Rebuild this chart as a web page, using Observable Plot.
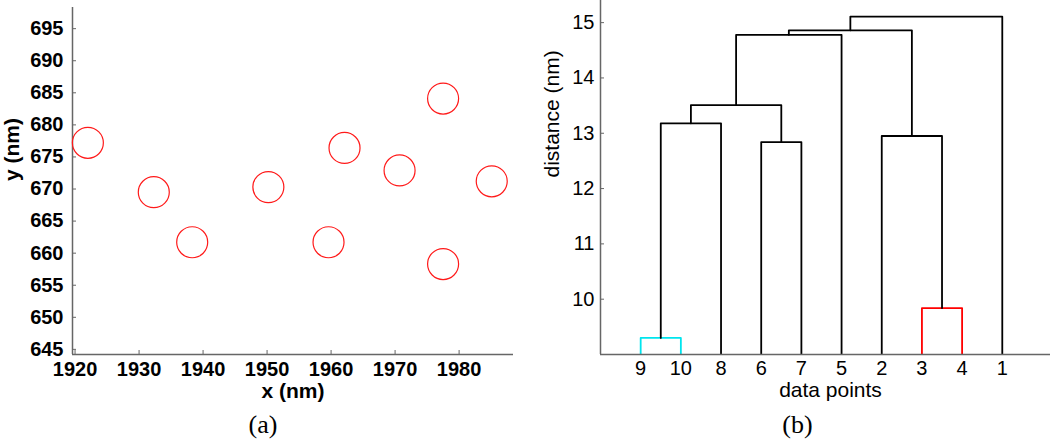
<!DOCTYPE html>
<html><head><meta charset="utf-8">
<script src="https://cdn.jsdelivr.net/npm/d3@7"></script>
<script src="https://cdn.jsdelivr.net/npm/@observablehq/plot@0.6"></script>
<style>
html,body{margin:0;padding:0;background:#fff;}
#wrap{position:relative;width:1050px;height:440px;overflow:hidden;}
#a{position:absolute;left:0;top:0;}
#b{position:absolute;left:525px;top:0;}
</style></head><body><div id="wrap"><div id="a"></div><div id="b"></div></div>
<script>
// ---- panel (a) data ----
const pointX = [1922.0, 1932.3, 1938.3, 1950.2, 1959.6, 1962.1, 1970.7, 1977.5, 1977.5, 1985.1];
const pointY = [677.2, 669.5, 661.7, 670.3, 661.7, 676.4, 672.9, 684.1, 658.3, 671.2];
const xTicksA = [1920, 1930, 1940, 1950, 1960, 1970, 1980];
const yTicksA = [645, 650, 655, 660, 665, 670, 675, 680, 685, 690, 695];

// ---- panel (b) data (linkage: leaves 1..10, new clusters 11..19) ----
const leafOrder = [9, 10, 8, 6, 7, 5, 2, 3, 4, 1];
const linkLeft = [9, 3, 6, 2, 11, 15, 16, 17, 18];
const linkRight = [10, 4, 7, 12, 8, 13, 5, 14, 1];
const linkHeight = [9.30, 9.84, 12.84, 12.95, 13.18, 13.51, 14.78, 14.86, 15.11];
const linkColor = ["#00e5ee", "#ff0000", "#000", "#000", "#000", "#000", "#000", "#000", "#000"];
const yTicksB = [10, 11, 12, 13, 14, 15];

const axisGray = "#666";

// ---- panel (a) ----
const pts = pointX.map((x, i) => ({x, y: pointY[i]}));
const WA = 525, HA = 440, mlA = 72, mrA = 12, mtA = 7, mbA = 86;
const xDomA = [1919.6, 1988.5], yDomA = [644.2, 698.3];
const sansFont = "Liberation Sans, Arial, Helvetica, sans-serif";
const serifFont = "Liberation Serif, Times New Roman, serif";
const plotA = Plot.plot({
  width: WA, height: HA,
  marginLeft: mlA, marginRight: mrA, marginTop: mtA, marginBottom: mbA,
  style: {fontFamily: sansFont, fontWeight: "bold", fontSize: "20px", color: "#000", background: "#fff", overflow: "visible"},
  x: {domain: xDomA, ticks: xTicksA, tickSize: 0, tickPadding: 7, tickFormat: d => String(d), label: null},
  y: {domain: yDomA, ticks: yTicksA, tickSize: 0, tickPadding: 9, tickFormat: d => String(d), label: null},
  marks: [
    Plot.tickY(yTicksA, {y: d => d, insetRight: WA - mlA - mrA - 4, stroke: axisGray, strokeWidth: 1}),
    Plot.tickX(xTicksA, {x: d => d, insetTop: HA - mtA - mbA - 4, stroke: axisGray, strokeWidth: 1}),
    Plot.ruleX([xDomA[0]], {stroke: axisGray, strokeWidth: 1.5}),
    Plot.ruleY([yDomA[0]], {stroke: axisGray, strokeWidth: 1.5}),
    Plot.dot(pts, {x: "x", y: "y", r: 15.5, stroke: "#ff1a1a", strokeWidth: 1.2, fill: "none"}),
    Plot.text(["x (nm)"], {frameAnchor: "bottom", lineAnchor: "middle", dy: 37, fontSize: 21, fontWeight: "bold"}),
    Plot.text(["y (nm)"], {frameAnchor: "left", lineAnchor: "middle", dx: -60, rotate: -90, fontSize: 21, fontWeight: "bold"}),
    Plot.text(["(a)"], {frameAnchor: "bottom", lineAnchor: "middle", dy: 70, dx: -30, fontSize: 26, fontWeight: "normal", fontFamily: serifFont})
  ]
});
document.getElementById("a").appendChild(plotA);

// ---- panel (b) ----
const pos = {}, hgt = {};
leafOrder.forEach((leaf, i) => { pos[leaf] = i + 1; hgt[leaf] = 0; });
const segs = [];
linkLeft.forEach((L, k) => {
  const R = linkRight[k], h = linkHeight[k], id = 11 + k;
  segs.push({x: pos[L], y: hgt[L], k, c: linkColor[k]});
  segs.push({x: pos[L], y: h, k, c: linkColor[k]});
  segs.push({x: pos[R], y: h, k, c: linkColor[k]});
  segs.push({x: pos[R], y: hgt[R], k, c: linkColor[k]});
  pos[id] = (pos[L] + pos[R]) / 2;
  hgt[id] = h;
});
const leafPositions = leafOrder.map((d, i) => i + 1);
const WB = 525, HB = 440, mlB = 75, mrB = 0, mtB = 0, mbB = 86;
const xDomB = [0, 11.2], yDomB = [9.0, 15.4];
const plotB = Plot.plot({
  width: WB, height: HB,
  marginLeft: mlB, marginRight: mrB, marginTop: mtB, marginBottom: mbB,
  style: {fontFamily: sansFont, fontSize: "20px", color: "#000", background: "#fff", overflow: "visible"},
  x: {domain: xDomB, ticks: leafPositions, tickSize: 0, tickPadding: 6, tickFormat: p => String(leafOrder[p - 1]), label: null},
  y: {domain: yDomB, ticks: yTicksB, tickSize: 0, tickPadding: 6, tickFormat: d => String(d), label: null},
  marks: [
    Plot.tickY(yTicksB, {y: d => d, insetRight: WB - mlB - mrB - 4, stroke: axisGray, strokeWidth: 1}),
    Plot.line(segs, {x: "x", y: "y", z: "k", stroke: "c", strokeWidth: 1.8, curve: "linear", clip: true}),
    Plot.ruleX([xDomB[0]], {stroke: axisGray, strokeWidth: 1.5}),
    Plot.ruleY([yDomB[0]], {stroke: axisGray, strokeWidth: 1.5}),
    Plot.text(["data points"], {frameAnchor: "bottom", lineAnchor: "middle", dy: 36, dx: 5, fontSize: 21}),
    Plot.text(["distance (nm)"], {frameAnchor: "left", lineAnchor: "middle", dx: -48, rotate: -90, fontSize: 21}),
    Plot.text(["(b)"], {frameAnchor: "bottom", lineAnchor: "middle", dy: 70, dx: -28, fontSize: 26, fontFamily: serifFont})
  ]
});
document.getElementById("b").appendChild(plotB);
</script>
</body></html>
